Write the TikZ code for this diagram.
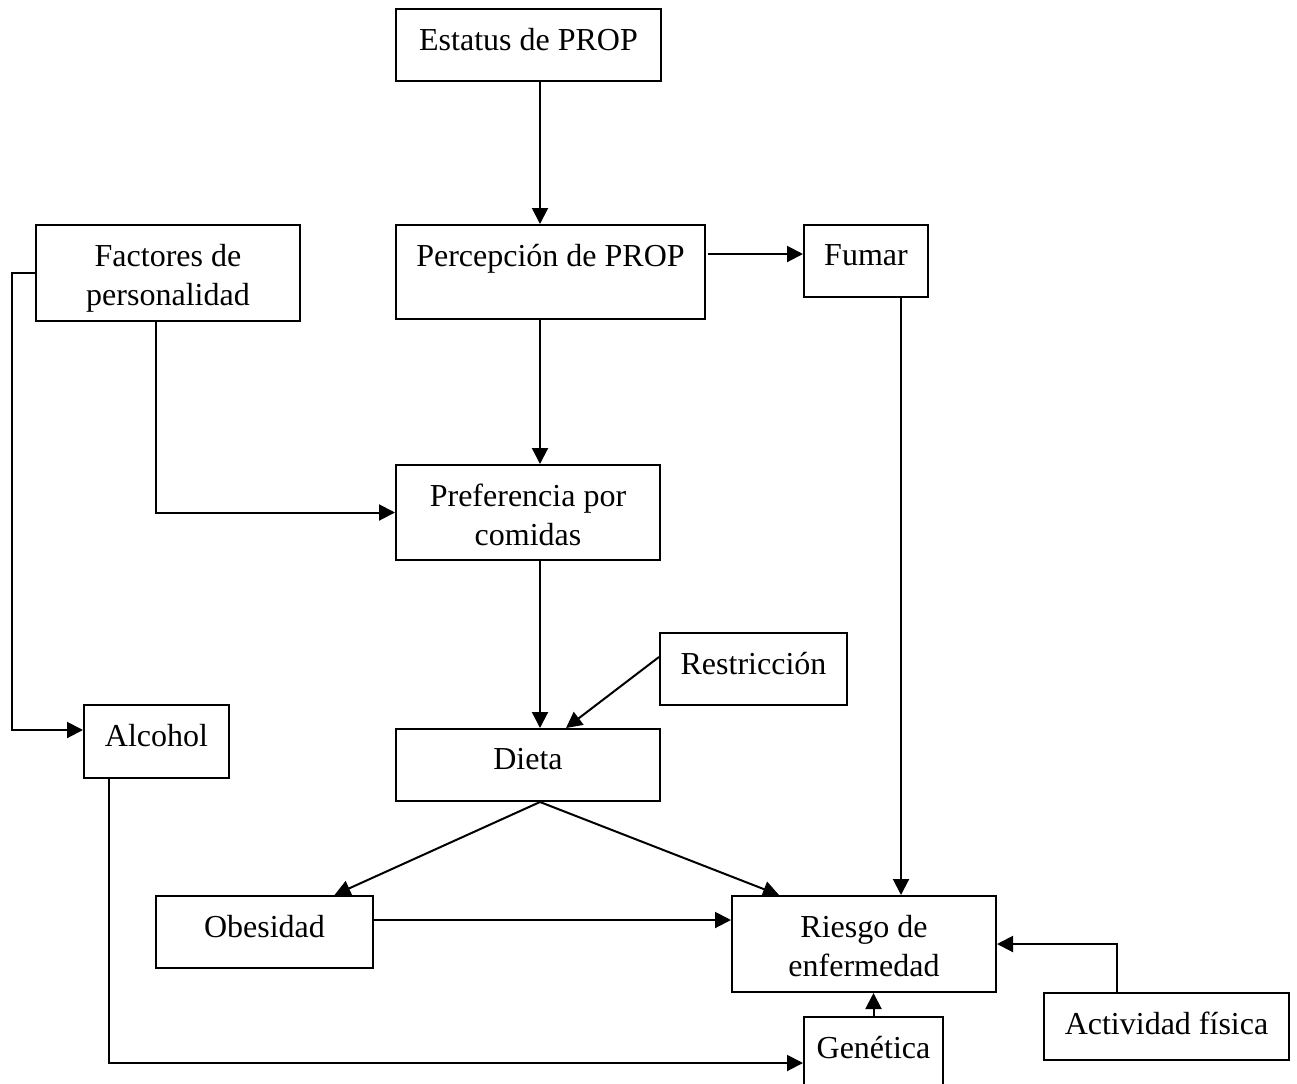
\documentclass[tikz,border=0pt]{standalone}
\usepackage{fontspec}
\setmainfont{Liberation Serif}
\usetikzlibrary{arrows.meta}

\begin{document}
\begin{tikzpicture}[x=0.5pt, y=-0.5pt,
  font=\fontsize{16}{19.5}\selectfont, >={Triangle[length=8pt,width=8pt]},
  box/.style={draw, line width=1pt, anchor=north west, inner sep=0pt},
  txt/.style={anchor=north, inner sep=0pt, align=center},
  arr/.style={->, line width=1pt}]

  \useasboundingbox (0,0) rectangle (1297,1083);
  \clip (0,0) rectangle (1297,1083);

  \coordinate (axis) at (540,0);

  % boxes
  \node[box, minimum width=132.5pt, minimum height=36pt] (estatus) at (395,8) {};
  \node[box, minimum width=154.5pt, minimum height=47pt] (perc) at (395,224) {};
  \node[box, minimum width=62pt, minimum height=36pt] (fumar) at (803,224) {};
  \node[box, minimum width=132pt, minimum height=48pt] (fact) at (35,224) {};
  \node[box, minimum width=132pt, minimum height=47.5pt] (pref) at (395,464) {};
  \node[box, minimum width=93.5pt, minimum height=36pt] (restr) at (659,632) {};
  \node[box, minimum width=72.5pt, minimum height=36.5pt] (alc) at (83,704) {};
  \node[box, minimum width=132pt, minimum height=36pt] (dieta) at (395,728) {};
  \node[box, minimum width=108.5pt, minimum height=36pt] (obes) at (155,895) {};
  \node[box, minimum width=132pt, minimum height=48pt] (risk) at (731,895) {};
  \node[box, minimum width=69.5pt, minimum height=50pt] (gen) at (803,1016) {};
  \node[box, minimum width=122.5pt, minimum height=33.5pt] (act) at (1043,992) {};

  % texts, set near the top of each box
  \node[txt] (estatus-t) at ([yshift=-10pt]estatus.north) {Estatus de PROP};
  \node[txt] (perc-t) at ([yshift=-10pt]perc.north) {Percepción de PROP};
  \node[txt] (fumar-t) at ([yshift=-10pt]fumar.north) {Fumar};
  \node[txt] (fact-t) at ([yshift=-10pt]fact.north) {Factores de\\ personalidad};
  \node[txt] (pref-t) at ([yshift=-10pt]pref.north) {Preferencia por\\ comidas};
  \node[txt] (restr-t) at ([yshift=-10pt]restr.north) {Restricción};
  \node[txt] (alc-t) at ([yshift=-10pt]alc.north) {Alcohol};
  \node[txt] (dieta-t) at ([yshift=-10pt]dieta.north) {Dieta};
  \node[txt] (obes-t) at ([yshift=-10pt]obes.north) {Obesidad};
  \node[txt] (risk-t) at ([yshift=-10pt]risk.north) {Riesgo de\\ enfermedad};
  \node[txt] (gen-t) at ([yshift=-10pt]gen.north) {Genética};
  \node[txt] (act-t) at ([yshift=-10pt]act.north) {Actividad física};

  % main chain
  \draw[arr] (estatus.south -| axis) -- (perc.north -| axis);
  \draw[arr] (perc.south -| axis) -- (pref.north -| axis);
  \draw[arr] (pref.south -| axis) -- (dieta.north -| axis);
  \draw[arr] ([xshift=1pt,yshift=-15pt]perc.north east) -- ([yshift=-15pt]fumar.north west);

  \draw[arr] ([xshift=-6pt]fact.south) |- (pref.west);
  \draw[arr] (fact.west) -- ++(-11.5pt,0) |- ([yshift=-13pt]alc.north west);
  \draw[arr] ([yshift=-12.5pt]restr.north west) -- ([xshift=19pt]dieta.north);

  \draw[arr] (dieta.south -| axis) -- ([xshift=35pt]obes.north);
  \draw[arr] (dieta.south -| axis) -- ([xshift=-42.5pt]risk.north);
  \draw[arr] ([xshift=17.5pt]fumar.south) -- ([xshift=17.5pt]fumar.south |- risk.north);
  \draw[arr] ([yshift=-12.5pt]obes.north east) -- ([yshift=-12.5pt]obes.north east -| risk.west);

  \draw[arr] ([xshift=-25pt]act.north) |- (risk.east);
  \draw[arr] (gen.north) -- (gen.north |- risk.south);
  \draw[arr] ([xshift=-24pt]alc.south) |- ([yshift=-23.5pt]gen.north west);
\end{tikzpicture}
\end{document}
